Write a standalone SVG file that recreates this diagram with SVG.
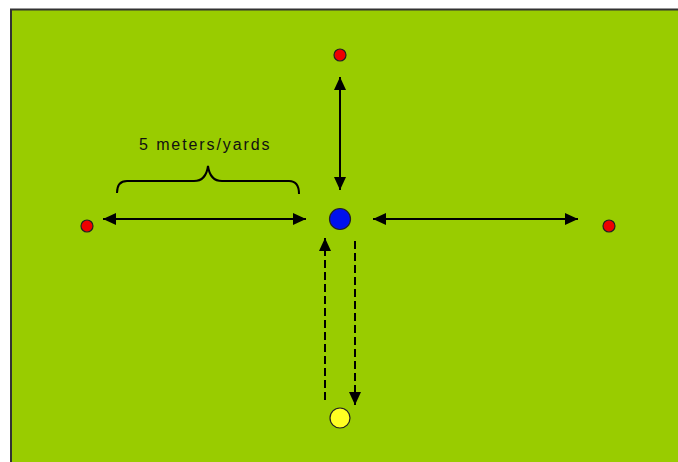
<svg xmlns="http://www.w3.org/2000/svg" width="678" height="462" viewBox="0 0 678 462">
<style>
.ln{stroke:#000;stroke-width:2;fill:none}
.dash{stroke-dasharray:8 4}
.dot{stroke:#222;stroke-width:1.2}
.lbl{font-family:"Liberation Sans",Arial,sans-serif;font-size:16px;letter-spacing:1.9px;fill:#111}
</style>
<defs>
<marker id="ah" viewBox="0 0 10 10" refX="10" refY="5" markerWidth="6.5" markerHeight="6" orient="auto-start-reverse" markerUnits="strokeWidth" preserveAspectRatio="none">
<path d="M0,0 L10,5 L0,10 Z" fill="#000"/>
</marker>
</defs>
<rect x="0" y="0" width="678" height="462" fill="#fff"/>
<rect id="field" x="11" y="9.5" width="680" height="470" fill="#99cc00" stroke="#333" stroke-width="2"/>
<g id="connectors">
<line class="ln" x1="340" y1="77" x2="340" y2="190" marker-start="url(#ah)" marker-end="url(#ah)"/>
<line class="ln" x1="103" y1="219" x2="306" y2="219" marker-start="url(#ah)" marker-end="url(#ah)"/>
<line class="ln" x1="373" y1="219" x2="578" y2="219" marker-start="url(#ah)" marker-end="url(#ah)"/>
<line class="ln dash" x1="325" y1="400" x2="325" y2="238" marker-end="url(#ah)"/>
<line class="ln dash" x1="355" y1="241" x2="355" y2="405" marker-end="url(#ah)"/>
</g>
<g id="brace">
<path class="ln" d="M117,193 Q117,181 127,181 L194,181 Q206,181 208,166 Q210,181 222,181 L289,181 Q299,181 299,194" stroke-width="1.6"/>
</g>
<g id="label">
<text class="lbl" x="139" y="150">5 meters/yards</text>
</g>
<g id="top-cone"><circle class="dot" cx="340" cy="55" r="6" fill="#e00"/></g>
<g id="left-cone"><circle class="dot" cx="87" cy="226" r="6" fill="#e00"/></g>
<g id="right-cone"><circle class="dot" cx="609" cy="226" r="6" fill="#e00"/></g>
<g id="center-player"><circle class="dot" cx="340" cy="219" r="10.5" fill="#0011ee"/></g>
<g id="bottom-player"><circle class="dot" cx="340" cy="418" r="10" fill="#ffff22"/></g>
</svg>
